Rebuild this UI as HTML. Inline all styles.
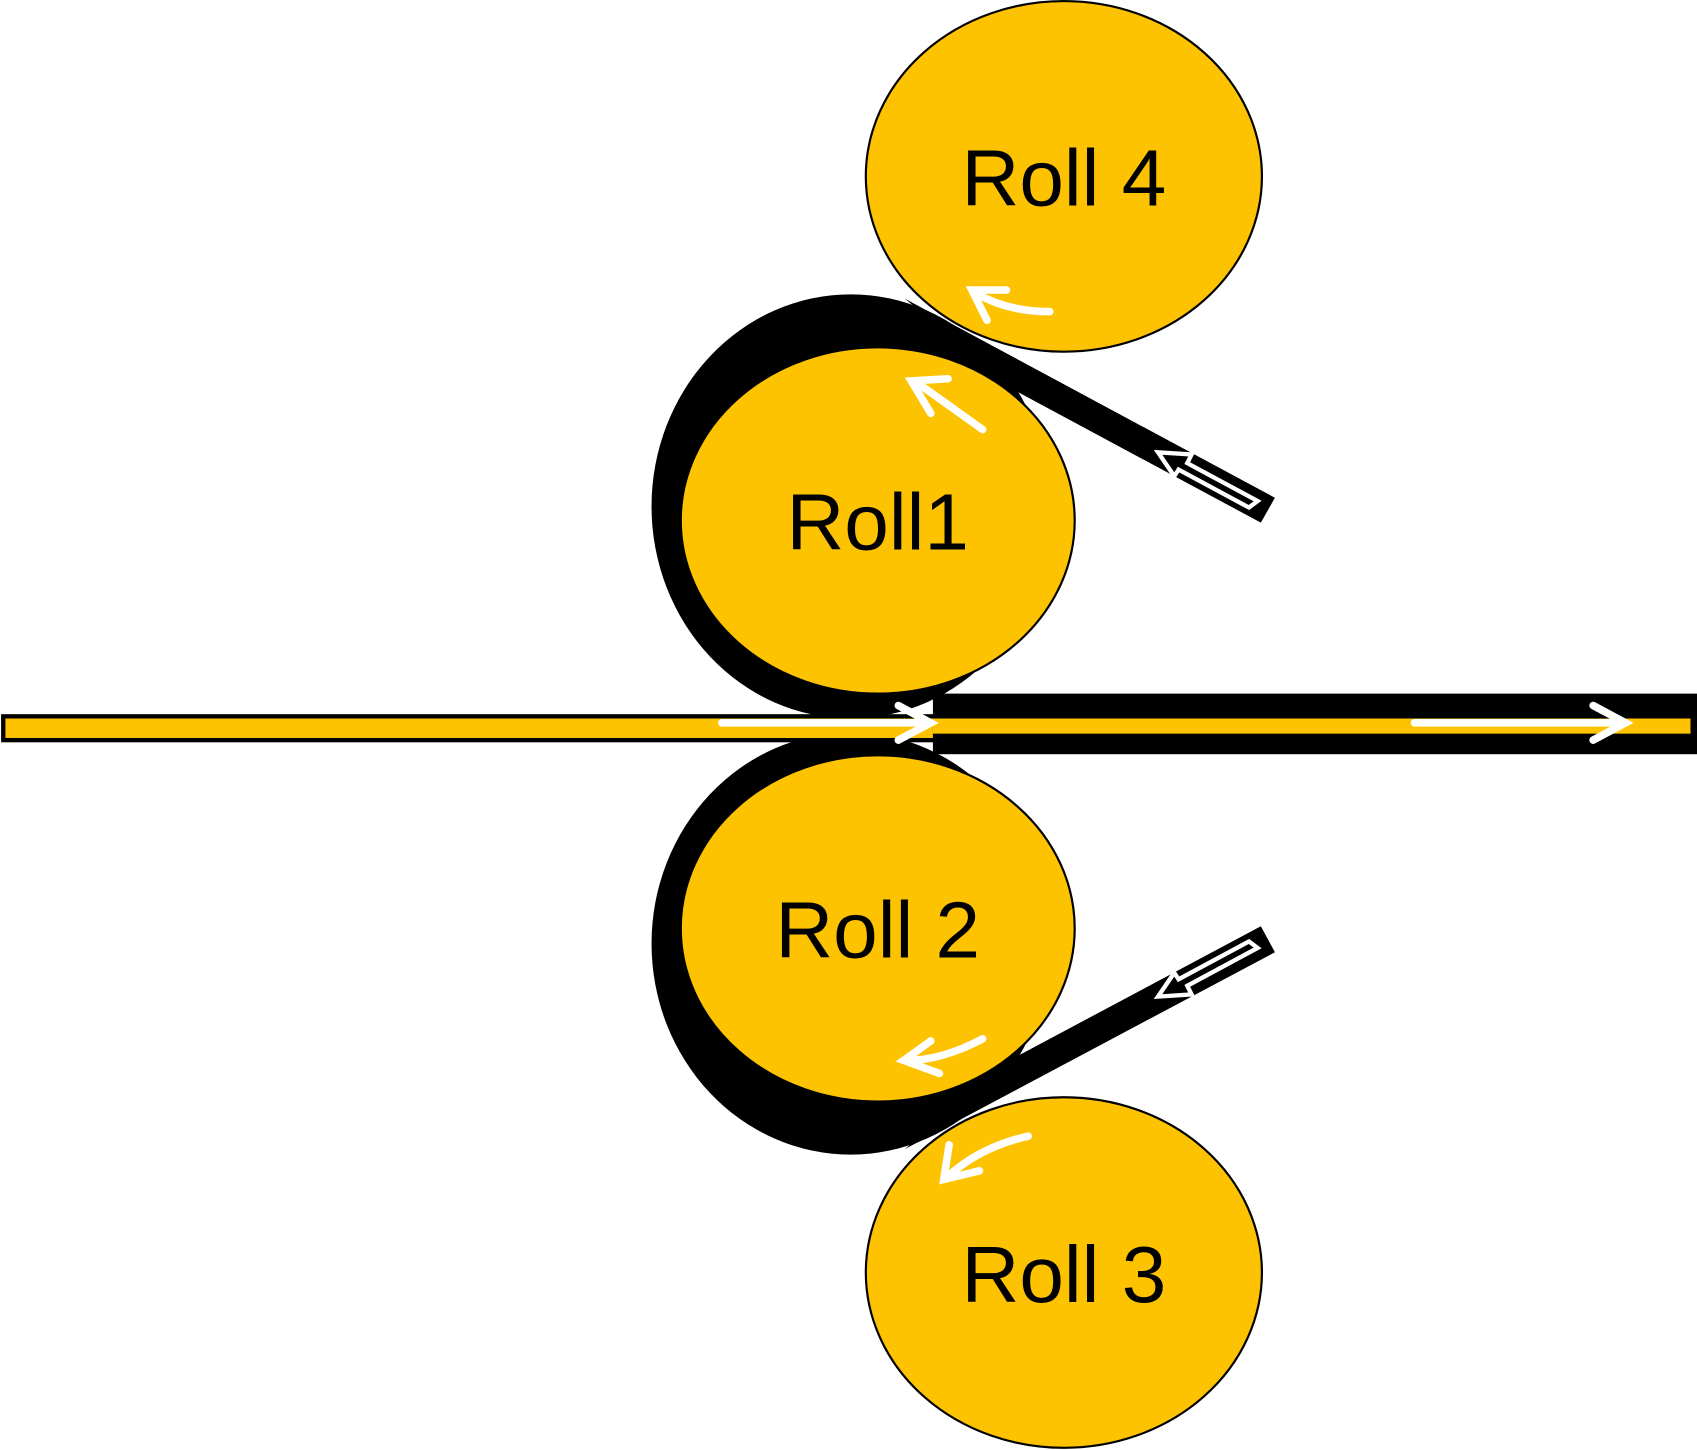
<!DOCTYPE html>
<html><head><meta charset="utf-8"><style>html,body{margin:0;padding:0;background:#fff}svg{display:block}</style></head>
<body>
<svg width="1697" height="1450" viewBox="0 0 1568 1340" preserveAspectRatio="none" xmlns="http://www.w3.org/2000/svg">
<rect width="1568" height="1340" fill="#fff"/>
<!-- sheet bands -->
<polygon points="836,276 1178,460 1165,483 940,362" fill="#000"/>
<polygon points="836,1062 1178,880 1165,856 940,976" fill="#000"/>
<!-- crescents -->
<ellipse cx="786" cy="468" rx="184" ry="196" fill="#000"/>
<ellipse cx="786" cy="872" rx="184" ry="195" fill="#000"/>
<!-- rolls -->
<ellipse cx="983" cy="163" rx="183" ry="162" fill="#FDC200" stroke="#000" stroke-width="2"/>
<ellipse cx="983" cy="1176" rx="183" ry="162" fill="#FDC200" stroke="#000" stroke-width="2"/>
<ellipse cx="811" cy="481" rx="182" ry="160" fill="#FDC200" stroke="#000" stroke-width="2"/>
<ellipse cx="811" cy="858" rx="182" ry="160" fill="#FDC200" stroke="#000" stroke-width="2"/>
<!-- strip -->
<rect x="3" y="662" width="862" height="22" fill="#FDC200" stroke="#000" stroke-width="4"/>
<rect x="862" y="641" width="706" height="56" fill="#000"/>
<rect x="862" y="664" width="700" height="14" fill="#FDC200"/>
<!-- white strip arrows -->
<g stroke="#fff" stroke-width="7" fill="none" stroke-linecap="round">
<line x1="667" y1="668" x2="858" y2="668"/><polyline points="830,652 860,668 830,684"/>
<line x1="1307" y1="668" x2="1500" y2="668"/><polyline points="1472,652 1502,668 1472,684"/>
</g>
<!-- hollow arrows in sheets -->
<polygon points="1162,463 1097,428 1101,420 1070,418 1085,440 1089,434 1154,469" fill="#000" stroke="#fff" stroke-width="4"/>
<polygon points="1162,876 1097,911 1101,919 1070,921 1085,899 1089,905 1154,870" fill="#000" stroke="#fff" stroke-width="4"/>
<!-- curved white arrows -->
<g stroke="#fff" stroke-width="7" fill="none" stroke-linecap="round">
<path d="M970,288 Q930,288 900,270"/><polyline points="930,268 898,268 912,296"/>
<path d="M908,397 Q870,370 845,352"/><polyline points="876,350 842,352 860,382"/>
<path d="M908,960 Q870,980 838,980"/><polyline points="860,962 835,980 868,992"/>
<path d="M950,1050 Q905,1060 875,1088"/><polyline points="877,1058 872,1090 905,1082"/>
</g>
<g font-family="Liberation Sans, sans-serif" font-size="74" fill="#000" text-anchor="middle">
<text x="983" y="190">Roll 4</text>
<text x="811" y="508">Roll1</text>
<text x="811" y="885">Roll 2</text>
<text x="983" y="1203">Roll 3</text>
</g>
</svg>
</body></html>
